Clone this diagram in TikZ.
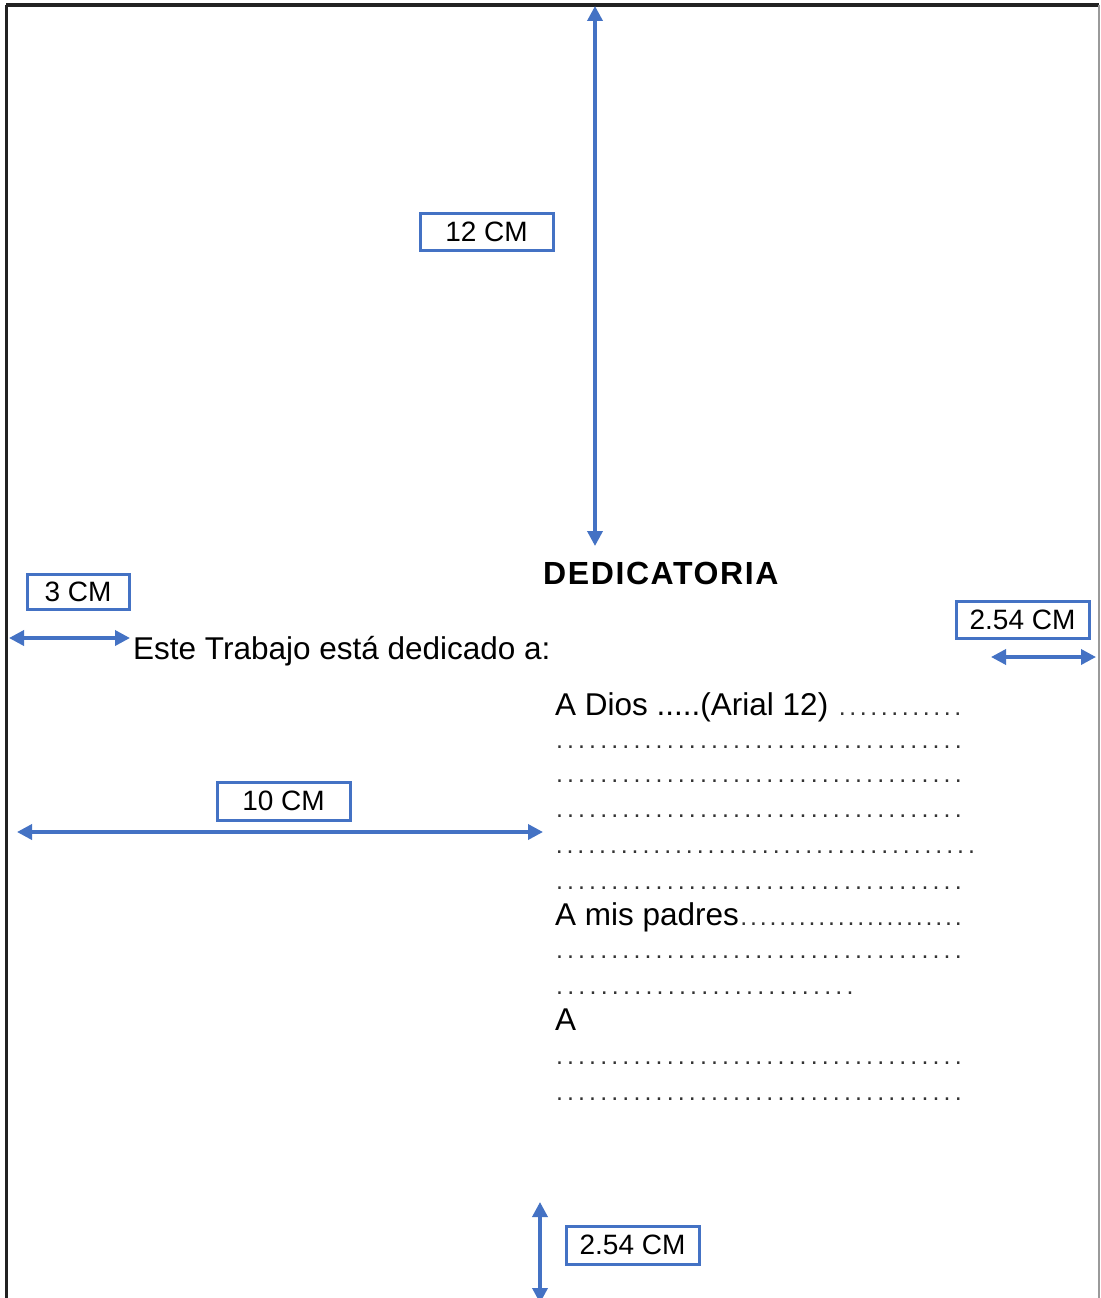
\documentclass[tikz,border=0pt]{standalone}
\usepackage{fontspec}
\setmainfont{Liberation Sans}
\newfontfamily\titlefont[LetterSpace=5]{Liberation Sans}
\usetikzlibrary{arrows.meta}
\definecolor{wblue}{HTML}{4472C4}
\definecolor{edgedark}{HTML}{222222}
\definecolor{edgelight}{HTML}{9A9A9A}
\definecolor{dotgray}{HTML}{333333}
\newcommand{\dotrun}[1]{\hbox to #1{\xleaders\hbox to 10.8pt{\hss.\hss}\hfill}}
\begin{document}
\begin{tikzpicture}[x=1pt,y=-1pt,
  dimarrow/.style={wblue, line width=3.5pt,
    {Triangle[width=15pt,length=15pt]}-{Triangle[width=15pt,length=15pt]}},
  cmbox/.style={draw=wblue, line width=3pt, minimum width=133pt,
    minimum height=37pt, inner sep=0pt, font=\fontsize{28}{28}\selectfont},
  bodytext/.style={anchor=base west, inner sep=0pt, font=\fontsize{31.5}{31.5}\selectfont},
  dotrow/.style={anchor=base west, inner sep=0pt, text=dotgray, font=\fontsize{25}{25}\selectfont}]
\useasboundingbox (0,0) rectangle (1100,1298);
\fill[white] (0,0) rectangle (1100,1298);
% page edges
\coordinate (ptl) at (6,5);
\coordinate (ptr) at (1099,5);
\coordinate (pbl) at (6,1300);
\coordinate (pbr) at (1099,1300);
\draw[edgedark, line width=3pt] (pbl) -- (ptl);
\draw[edgedark, line width=3.5pt] (ptl) -- (ptr);
\draw[edgelight, line width=2pt] (ptr) -- (pbr);
% top margin 12 cm
\coordinate (topA) at (595,6);
\coordinate (topB) at (595,546);
\draw[dimarrow] (topA) -- (topB);
\node[cmbox] (lab12) at (486.5,231.5) {12 CM};
% title
\node[anchor=base west, inner sep=0pt, font=\titlefont\bfseries\fontsize{32}{32}\selectfont] (title) at (543,584) {DEDICATORIA};
% left margin 3 cm
\node[cmbox, minimum width=102pt, minimum height=35pt] (lab3) at (78,591.5) {3 CM};
\coordinate (lmA) at (9,638);
\coordinate (lmB) at (130,638);
\draw[dimarrow] (lmA) -- (lmB);
\node[bodytext] (intro) at (133,659) {Este Trabajo está dedicado a:};
% right margin 2.54 cm
\node[cmbox] (labR) at (1022.5,619.5) {2.54 CM};
\coordinate (rmA) at (991,657);
\coordinate (rmB) at (1096,657);
\draw[dimarrow] (rmA) -- (rmB);
% 10 cm
\node[cmbox, minimum height=38pt] (lab10) at (283.5,801) {10 CM};
\coordinate (tcA) at (17,832);
\coordinate (tcB) at (543,832);
\draw[dimarrow] (tcA) -- (tcB);
% dedication text
\node[bodytext] (dios) at (555,715) {\hbox to 408pt{A Dios .....(Arial 12) {\color{dotgray}\fontsize{25}{25}\selectfont\xleaders\hbox to 10.4pt{\hss.\hss}\hfill}}};
\node[dotrow] (d1) at (553.6,748) {\dotrun{410pt}};
\node[dotrow] (d2) at (553.6,782) {\dotrun{410pt}};
\node[dotrow] (d3) at (553.6,817) {\dotrun{410pt}};
\node[dotrow] (d4) at (553.6,853) {\dotrun{423pt}};
\node[dotrow] (d5) at (553.6,889) {\dotrun{410pt}};
\node[bodytext] (padres) at (555,925) {\hbox to 408pt{A mis padres{\color{dotgray}\fontsize{25}{25}\selectfont\xleaders\hbox to 9.6pt{\hss.\hss}\hfill}}};
\node[dotrow] (d6) at (553.6,958) {\dotrun{410pt}};
\node[dotrow] (d7) at (553.6,994) {\dotrun{302pt}};
\node[bodytext] (aline) at (555,1030) {A};
\node[dotrow] (d8) at (553.6,1064) {\dotrun{410pt}};
\node[dotrow] (d9) at (553.6,1100) {\dotrun{410pt}};
% bottom margin 2.54 cm
\coordinate (bmA) at (540,1202);
\coordinate (bmB) at (540,1303);
\draw[dimarrow] (bmA) -- (bmB);
\node[cmbox, minimum height=38pt] (labB) at (632.5,1245) {2.54 CM};
\end{tikzpicture}
\end{document}
